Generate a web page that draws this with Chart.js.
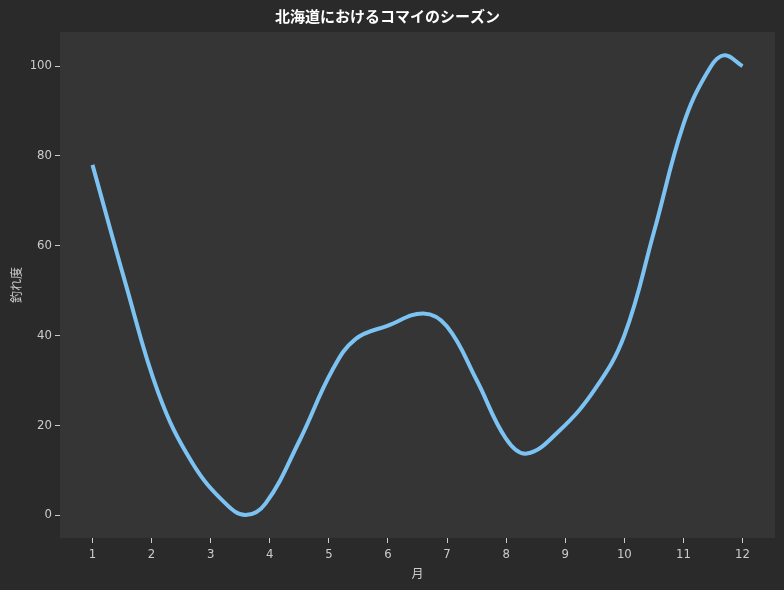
<!DOCTYPE html>
<html>
<head>
<meta charset="utf-8">
<script src="https://cdn.jsdelivr.net/npm/chart.js@4"></script>
<style>
  html, body { margin: 0; padding: 0; background: #2a2a2a; }
  #wrap { width: 784px; height: 590px; }
</style>
</head>
<body>
<div id="wrap"><canvas id="komaiChart"></canvas></div>
<script>
// 月（横軸の位置）と釣れ度 — 図から読み取った値
const months = [1.0, 1.55, 2.12, 2.69, 3.25, 3.59, 3.93, 4.5, 5.06, 5.45, 6.0, 6.6, 7.0, 7.5, 8.0, 8.35, 8.9, 9.5, 10.0, 10.5, 11.0, 11.4, 11.68, 12.0];
const catchLevel = [78, 52, 27, 11.6, 2.6, 0, 2.6, 16.5, 32.3, 39.2, 42.2, 44.9, 42, 30.1, 17, 13.7, 18.8, 28, 40, 63, 87, 98.5, 102.4, 100];
const xTicks = [1, 2, 3, 4, 5, 6, 7, 8, 9, 10, 11, 12];
const yTicks = [0, 20, 40, 60, 80, 100];

const FONT = '"DejaVu Sans Condensed", "Liberation Sans Narrow", "Noto Sans CJK JP", sans-serif';
const JP = '"Noto Sans CJK JP", sans-serif';
const TEXT = '#cccccc';

// 背景（図全体とプロット領域）
const bgPlugin = {
    id: 'bg',
    beforeDraw(chart) {
        const { ctx, chartArea } = chart;
        ctx.save();
        ctx.fillStyle = '#2a2a2a';
        ctx.fillRect(0, 0, chart.width, chart.height);
        ctx.fillStyle = '#353535';
        ctx.fillRect(chartArea.left, chartArea.top, chartArea.right - chartArea.left, chartArea.bottom - chartArea.top);
        ctx.restore();
    }
};

const ctx = document.getElementById('komaiChart').getContext('2d');
new Chart(ctx, {
    type: 'line',
    data: {
        datasets: [{
            data: months.map((m, i) => ({ x: m, y: catchLevel[i] })),
            borderColor: '#7cc3f3',
            borderWidth: 4,
            pointRadius: 0,
            tension: 0.4,
            fill: false
        }]
    },
    options: {
        responsive: true,
        maintainAspectRatio: false,
        animation: false,
        layout: { padding: { top: 0, right: 9, bottom: 0, left: 0 } },
        plugins: {
            legend: { display: false },
            tooltip: { enabled: false },
            title: {
                display: true,
                text: '北海道におけるコマイのシーズン',
                color: '#ffffff',
                font: { family: JP, size: 15, weight: 'bold' },
                padding: { top: 7, bottom: 7 }
            }
        },
        scales: {
            x: {
                type: 'linear',
                min: 0.45,
                max: 12.55,
                afterBuildTicks: s => { s.ticks = xTicks.map(v => ({ value: v })); },
                afterFit: s => { s.height = 52; },
                border: { display: false },
                grid: { drawOnChartArea: false, drawTicks: true, tickLength: 5, color: TEXT, lineWidth: 1 },
                ticks: { color: TEXT, font: { family: FONT, size: 13 }, padding: 4, maxRotation: 0 },
                title: {
                    display: true, text: '月', color: TEXT,
                    font: { family: JP, size: 12 },
                    padding: { top: 0, bottom: 9 }
                }
            },
            y: {
                min: -5.1,
                max: 107.6,
                afterBuildTicks: s => { s.ticks = yTicks.map(v => ({ value: v })); },
                afterFit: s => { s.width = 60; },
                border: { display: false },
                grid: { drawOnChartArea: false, drawTicks: true, tickLength: 5, color: TEXT, lineWidth: 1 },
                ticks: { color: TEXT, font: { family: FONT, size: 13 }, padding: 3 },
                title: {
                    display: true, text: '釣れ度', color: TEXT,
                    font: { family: JP, size: 12 },
                    padding: { top: 9, bottom: 0 }
                }
            }
        }
    },
    plugins: [bgPlugin]
});
</script>
</body>
</html>
